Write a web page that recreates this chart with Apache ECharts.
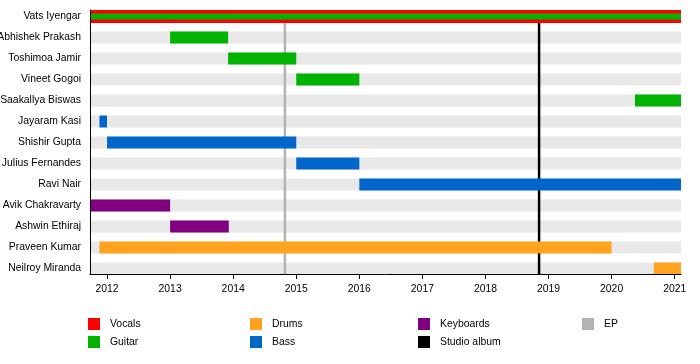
<!DOCTYPE html>
<html>
<head>
<meta charset="utf-8">
<script src="https://cdn.jsdelivr.net/npm/echarts@6/dist/echarts.min.js"></script>
<style>
html,body{margin:0;padding:0;background:#fff;}
#chart{width:700px;height:364px;}
</style>
</head>
<body>
<div id="chart"></div>
<script>
// ---- data ----
const members = ['Vats Iyengar','Abhishek Prakash','Toshimoa Jamir','Vineet Gogoi','Saakallya Biswas','Jayaram Kasi','Shishir Gupta','Julius Fernandes','Ravi Nair','Avik Chakravarty','Ashwin Ethiraj','Praveen Kumar','Neilroy Miranda'];
const periodStart = 2011.73;
const periodEnd = 2021.10;
const yearTicks = [2012, 2013, 2014, 2015, 2016, 2017, 2018, 2019, 2020, 2021];
// [start, memberIndex, end]
const vocals = [[2011.73, 0, 2021.10]];
const guitar = [[2011.73, 0, 2021.10], [2013.0, 1, 2013.92], [2013.92, 2, 2015.0], [2015.0, 3, 2016.0], [2020.37, 4, 2021.10]];
const bass = [[2011.88, 5, 2012.0], [2012.0, 6, 2015.0], [2015.0, 7, 2016.0], [2016.0, 8, 2021.10]];
const keyboards = [[2011.73, 9, 2013.0], [2013.0, 10, 2013.93]];
const drums = [[2011.88, 11, 2020.0], [2020.67, 12, 2021.10]];
const epReleases = [2014.82];
const studioAlbums = [2018.85];

const colors = {
  Vocals: '#ff0000', Guitar: '#00b300', Bass: '#0066cc', Keyboards: '#800080',
  Drums: '#ffa321', EP: '#b3b3b3', 'Studio album': '#000000', bg: '#e8e8e8'
};
const FONT = 'Liberation Sans, Arial, sans-serif';
const FS = 10.4;
const vocalRows = new Set(vocals.map(d => d[1]));

function barRenderer(color, thicknessFn) {
  return function (params, api) {
    const row = api.value(1);
    const s = api.coord([api.value(0), row]);
    const e = api.coord([api.value(2), row]);
    const h = thicknessFn(row);
    return {
      type: 'rect',
      shape: { x: s[0], y: s[1] - h / 2, width: e[0] - s[0], height: h },
      style: { fill: color }
    };
  };
}
function lineRenderer(color) {
  return function (params, api) {
    const p = api.coord([api.value(0), 0]);
    const cs = params.coordSys;
    return {
      type: 'line',
      shape: { x1: p[0], y1: cs.y, x2: p[0], y2: cs.y + cs.height },
      style: { stroke: color, lineWidth: 2.5 }
    };
  };
}

const bgData = members.map((m, i) => [periodStart, i, periodEnd]);

function barSeries(name, data, thicknessFn, z) {
  return {
    name: name, type: 'custom', xAxisIndex: 0, yAxisIndex: 0,
    data: data, encode: { x: [0, 2], y: 1 },
    renderItem: barRenderer(colors[name], thicknessFn),
    itemStyle: { color: colors[name] }, z: z, clip: true, silent: true
  };
}
function lineSeries(name, data) {
  return {
    name: name, type: 'custom', xAxisIndex: 0, yAxisIndex: 0,
    data: data.map(v => [v, 0]), encode: { x: 0, y: 1 },
    renderItem: lineRenderer(colors[name]),
    itemStyle: { color: colors[name] }, z: 2, silent: true
  };
}

const chart = echarts.init(document.getElementById('chart'), null, { renderer: 'canvas' });

function legendCol(left, names) {
  return {
    data: names, orient: 'vertical', left: left, top: 318,
    itemWidth: 12, itemHeight: 12, itemGap: 6, padding: 0,
    icon: 'rect', selectedMode: false,
    textStyle: { fontSize: FS, color: '#000', fontFamily: FONT, padding: [0, 0, 0, 5] }
  };
}

chart.setOption({
  animation: false,
  backgroundColor: '#fff',
  textStyle: { fontFamily: FONT },
  grid: [
    { left: 90, right: 19, top: 10, bottom: 90, containLabel: false, outerBoundsMode: 'none' },
    { left: 90, right: 19, top: 6, height: 273, containLabel: false, outerBoundsMode: 'none' }
  ],
  xAxis: [
    {
      type: 'value', gridIndex: 0, position: 'bottom', min: periodStart, max: periodEnd, z: 10,
      axisLine: { show: true, onZero: false, lineStyle: { color: '#000', width: 1 } },
      axisTick: { show: true, length: 5, customValues: yearTicks, lineStyle: { color: '#000' } },
      axisLabel: { customValues: yearTicks, fontSize: FS, color: '#000', margin: 10, fontFamily: FONT,
        formatter: v => String(Math.round(v)) },
      splitLine: { show: false }
    },
    { type: 'value', gridIndex: 1, show: false, min: 0, max: 1 }
  ],
  yAxis: [
    {
      type: 'value', gridIndex: 0, position: 'left', inverse: true, min: -0.31, max: 12.262, z: 10,
      axisLine: { show: true, onZero: false, lineStyle: { color: '#000', width: 1 } },
      axisTick: { show: false }, axisLabel: { show: false }, splitLine: { show: false }
    },
    {
      type: 'category', gridIndex: 1, inverse: true, data: members,
      axisLine: { show: false }, axisTick: { show: false }, splitLine: { show: false },
      axisLabel: { fontSize: FS, color: '#000', margin: 9, fontFamily: FONT }
    }
  ],
  legend: [
    legendCol(88, ['Vocals', 'Guitar']),
    legendCol(250, ['Drums', 'Bass']),
    legendCol(418, ['Keyboards', 'Studio album']),
    legendCol(582, ['EP'])
  ],
  series: [
    {
      name: 'bg', type: 'custom', xAxisIndex: 0, yAxisIndex: 0,
      data: bgData, encode: { x: [0, 2], y: 1 },
      renderItem: barRenderer(colors.bg, () => 12), z: 1, silent: true
    },
    lineSeries('EP', epReleases),
    lineSeries('Studio album', studioAlbums),
    barSeries('Vocals', vocals, () => 13, 3),
    barSeries('Guitar', guitar, r => vocalRows.has(r) ? 6 : 12, 4),
    barSeries('Bass', bass, () => 12, 3),
    barSeries('Keyboards', keyboards, () => 12, 3),
    barSeries('Drums', drums, () => 12, 3)
  ]
});
</script>
</body>
</html>
